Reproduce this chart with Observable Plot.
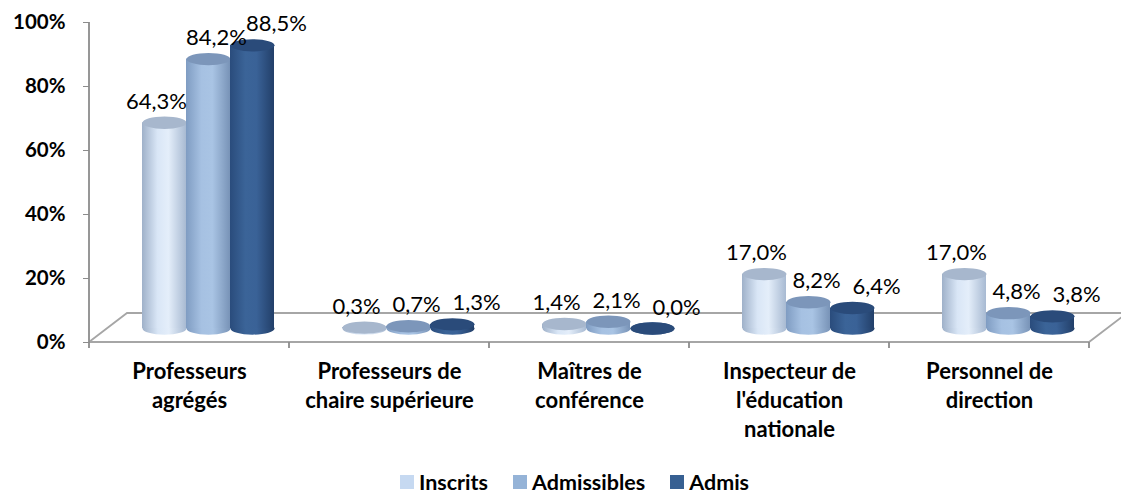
<!DOCTYPE html>
<html><head><meta charset="utf-8">
<script src="https://cdn.jsdelivr.net/npm/d3@7"></script>
<script src="https://cdn.jsdelivr.net/npm/@observablehq/plot@0.6"></script>
<style>
body{margin:0;background:#fff;font-family:Lato,"Open Sans",sans-serif;}
#chart svg{display:block;}
#legend{display:flex;justify-content:center;align-items:center;gap:25px;margin-top:31px;height:22px;padding-left:28px;font:bold 21.5px/22px Lato,sans-serif;color:#000;}
#legend .it{display:flex;align-items:center;gap:5px;}
#legend .sw{width:14px;height:14px;display:inline-block;}
</style></head><body>
<div id="chart"></div>
<script>
const categories = ["Professeurs agrégés","Professeurs de chaire supérieure","Maîtres de conférence","Inspecteur de l'éducation nationale","Personnel de direction"];
const categoryLabels = ["Professeurs\nagrégés","Professeurs de\nchaire supérieure","Maîtres de\nconférence","Inspecteur de\nl'éducation\nnationale","Personnel de\ndirection"];
const series = ["Inscrits","Admissibles","Admis"];
const inscrits = [64.3,0.3,1.4,17.0,17.0];
const admissibles = [84.2,0.7,2.1,8.2,4.8];
const admis = [88.5,1.3,0.0,6.4,3.8];
const yTicks = [0,20,40,60,80,100];

const seriesValues = [inscrits, admissibles, admis];
const swatch = ["#c6d9f1","#95b3d7","#376092"];
const grads = [
  ["#9fb1c9","#d9e6f6","#e4eefa","#a8bad2"],
  ["#7f9cc2","#a6c1e2","#a9c4e4","#7893b7"],
  ["#2a4c7c","#3b6498","#3a6297","#223f69"]
];
const topFill = ["#a7b7cd","#7c96ba","#2a4b7a"];

const rows = [];
series.forEach((s,i)=>categories.forEach((c,j)=>rows.push({series:s, si:i, category:c, value:seriesValues[i][j]})));

const fmt = v => v.toFixed(1).replace(".", ",") + "%";

const ellipse = {draw(ctx, size){ const r = Math.sqrt(size/Math.PI); const ry = r*0.28;
  const k = 0.5523;
  ctx.moveTo(r,0);
  ctx.bezierCurveTo(r, ry*k, r*k, ry, 0, ry);
  ctx.bezierCurveTo(-r*k, ry, -r, ry*k, -r, 0);
  ctx.bezierCurveTo(-r, -ry*k, -r*k, -ry, 0, -ry);
  ctx.bezierCurveTo(r*k, -ry, r, -ry*k, r, 0);
  ctx.closePath(); }};

const BASE = -14;
const dxs = [-25, 19, 63];
const labDx = [-8, 8, 24];

function defs(){
  const g = d3.create("svg:g");
  const d = g.append("defs");
  grads.forEach((st,i)=>{
    const lg = d.append("linearGradient").attr("id","cyl"+i).attr("x1","0").attr("x2","1").attr("y1","0").attr("y2","0");
    [0,0.35,0.6,1].forEach((o,k)=>lg.append("stop").attr("offset",o).attr("stop-color",st[k]));
  });
  return g.node();
}

function floor(index, scales, values, dim){
  const g = d3.create("svg:g").attr("fill","none").attr("stroke","#a6a6a6").attr("stroke-width",1.8);
  const x0 = dim.marginLeft, x1 = dim.width - dim.marginRight;
  const y0 = scales.y(0);
  const ox = 38, oy = -29;
  g.append("path").attr("d",`M${x0},${y0}L${x0+ox},${y0+oy}L${x1+ox},${y0+oy}M${x0},${y0}L${x1},${y0}L${x1+ox},${y0+oy}`);
  g.append("line").attr("x1",x0).attr("x2",x0).attr("y1",dim.marginTop).attr("y2",y0).attr("stroke","#8c8c8c");
  const bw = (x1-x0)/categories.length;
  for(let k=0;k<=categories.length;k++) g.append("line").attr("x1",x0+k*bw).attr("x2",x0+k*bw).attr("y1",y0).attr("y2",y0+6).attr("stroke","#8c8c8c");
  return g.node();
}

const marks = [defs, floor,
  Plot.axisY({ticks:yTicks, tickFormat:d=>d+"%", tickSize:6, tickPadding:18, fontSize:20.5, fontWeight:"bold", stroke:"#8c8c8c", fill:"#000", label:null, fontFamily:"Lato"})
];
series.forEach((s,i)=>{
  const data = rows.filter(r=>r.si===i);
  marks.push(Plot.dot(data,{x:"category", y:()=>0, r:22, symbol:ellipse, fill:`url(#cyl${i})`, stroke:"none", dx:dxs[i], dy:BASE}));
  marks.push(Plot.barY(data,{x:"category", y:"value", fill:`url(#cyl${i})`, insetLeft:78+dxs[i], insetRight:78-dxs[i], dy:BASE}));
  marks.push(Plot.dot(data,{x:"category", y:"value", r:22, symbol:ellipse, fill:topFill[i], stroke:"none", dx:dxs[i], dy:BASE}));
});
series.forEach((s,i)=>{
  const data = rows.filter(r=>r.si===i);
  marks.push(Plot.text(data,{x:"category", y:"value", text:d=>fmt(d.value), dx:dxs[i]+labDx[i], dy:BASE-21, fontSize:22, fill:"#000", fontFamily:"Lato"}));
});
marks.push(Plot.text(categories,{x:d=>d, y:()=>0, text:(d,i)=>categoryLabels[i], lineAnchor:"top", dy:16, lineHeight:1.32, fontSize:22, fontWeight:"bold", fill:"#000", fontFamily:"Lato"}));

const chart = Plot.plot({
  width:1121, height:440,
  marginLeft:89, marginRight:32, marginTop:22, marginBottom:98,
  x:{type:"band", domain:categories, padding:0, axis:null},
  y:{domain:[0,100], axis:null},
  style:{fontFamily:"Lato", background:"#fff", overflow:"visible"},
  marks
});
document.getElementById("chart").appendChild(chart);

const leg = document.createElement("div"); leg.id="legend";
series.forEach((s,i)=>{ const it=document.createElement("span"); it.className="it";
  const sw=document.createElement("span"); sw.className="sw"; sw.style.background=swatch[i];
  const t=document.createElement("span"); t.textContent=s; it.appendChild(sw); it.appendChild(t); leg.appendChild(it); });
document.body.appendChild(leg);
</script></body></html>
